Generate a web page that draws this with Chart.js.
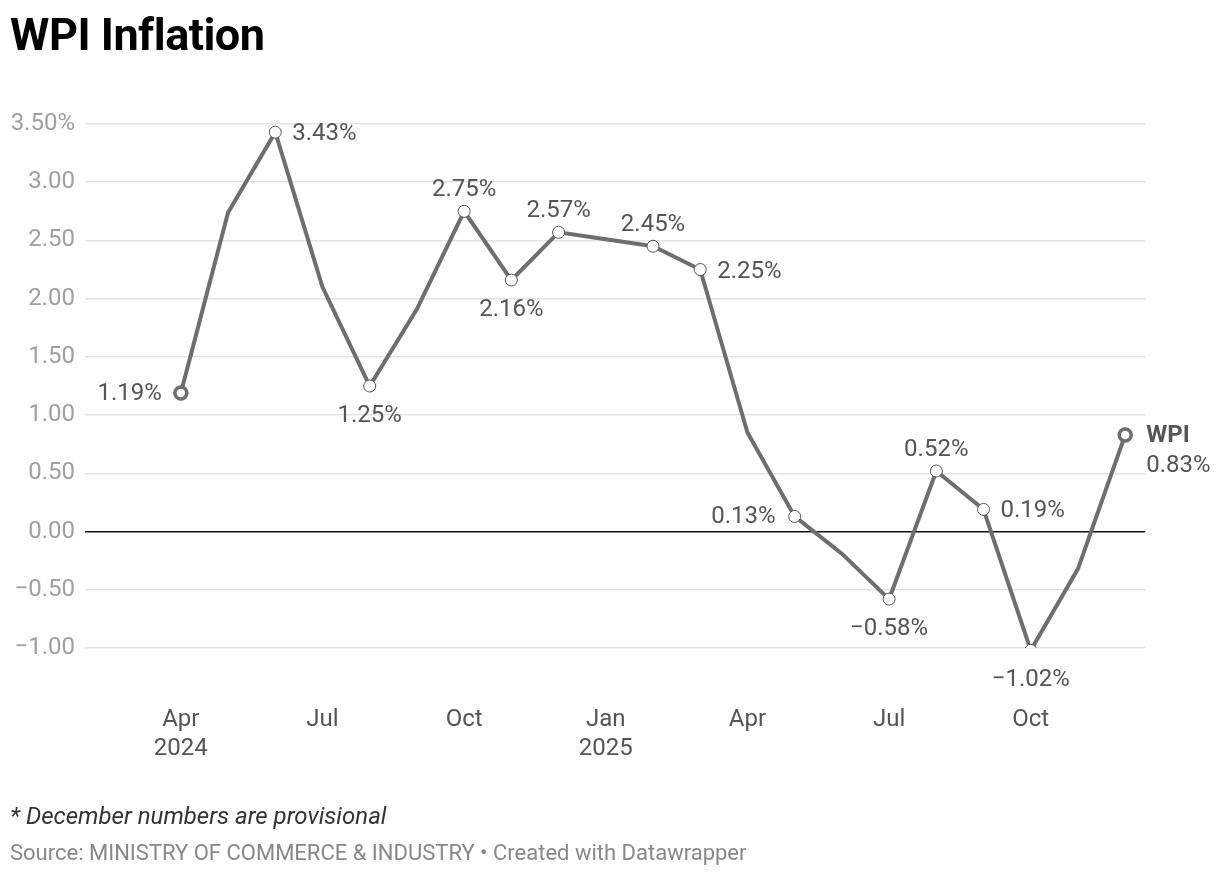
<!DOCTYPE html>
<html>
<head>
<meta charset="utf-8">
<script src="https://cdn.jsdelivr.net/npm/chart.js@4.4.1/dist/chart.umd.min.js"></script>
<style>
  html, body { margin: 0; padding: 0; background: #fff; }
  body { width: 1220px; height: 876px; position: relative; overflow: hidden; font-family: Roboto, "Noto Sans", sans-serif; }
  #title { position: absolute; left: 10px; top: 8px; font-size: 45px; line-height: normal; font-weight: 700; color: #000; letter-spacing: -0.5px; }
  #note { position: absolute; left: 10px; top: 802px; font-size: 24px; line-height: normal; font-style: italic; color: #333; }
  #source { position: absolute; left: 10px; top: 840px; font-size: 22px; line-height: normal; color: #888; }
  #wrap { position: absolute; left: 0; top: 0; width: 1220px; height: 876px; }
</style>
</head>
<body>
<div id="wrap"><canvas id="c"></canvas></div>
<div id="title">WPI Inflation</div>
<div id="note">* December numbers are provisional</div>
<div id="source">Source: MINISTRY OF COMMERCE &amp; INDUSTRY • Created with Datawrapper</div>
<script>
const months = ['Apr 2024','May 2024','Jun 2024','Jul 2024','Aug 2024','Sep 2024','Oct 2024','Nov 2024','Dec 2024',
  'Jan 2025','Feb 2025','Mar 2025','Apr 2025','May 2025','Jun 2025','Jul 2025','Aug 2025','Sep 2025','Oct 2025','Nov 2025','Dec 2025'];
const wpi = [1.19, 2.74, 3.43, 2.10, 1.25, 1.91, 2.75, 2.16, 2.57, 2.51, 2.45, 2.25, 0.85, 0.13, -0.19, -0.58, 0.52, 0.19, -1.02, -0.32, 0.83];
const xTickIndex = [0, 3, 6, 9, 12, 15, 18];
const xTickLabels = [['Apr','2024'], ['Jul'], ['Oct'], ['Jan','2025'], ['Apr'], ['Jul'], ['Oct']];
const yTicks = [3.5, 3.0, 2.5, 2.0, 1.5, 1.0, 0.5, 0.0, -0.5, -1.0];
const seriesName = 'WPI';

// label placement for annotated points (index -> side)
const labelSide = {0:'left', 2:'right', 4:'below', 6:'above', 7:'below', 8:'above', 10:'above', 11:'right',
  13:'left', 15:'below', 16:'above', 17:'right', 18:'below', 20:'last'};

const fmtPct = v => (v < 0 ? '\u2212' + Math.abs(v).toFixed(2) : v.toFixed(2)) + '%';
const fmtTick = v => { const s = (v < 0 ? '\u2212' + Math.abs(v).toFixed(2) : v.toFixed(2)); return v === 3.5 ? s + '%' : s; };

const pts = wpi.map((v, i) => ({x: i, y: v}));
const lastIdx = wpi.length - 1;
const radii = wpi.map((v, i) => (i === 0 || i === lastIdx) ? 6 : (labelSide[i] ? 6 : 0));
const bw = wpi.map((v, i) => (i === 0 || i === lastIdx) ? 3.5 : 1);
const bc = wpi.map((v, i) => (i === 0 || i === lastIdx) ? '#6e6e6e' : '#555');

const labelPlugin = {
  id: 'labels',
  afterDatasetsDraw(chart) {
    const ctx = chart.ctx;
    const meta = chart.getDatasetMeta(0);
    ctx.save();
    ctx.textBaseline = 'middle';
    Object.keys(labelSide).forEach(k => {
      const i = +k;
      const el = meta.data[i];
      const side = labelSide[i];
      const txt = fmtPct(wpi[i]);
      ctx.fillStyle = '#555';
      ctx.font = '24px Roboto, sans-serif';
      if (side === 'left') { ctx.textAlign = 'right'; ctx.fillText(txt, el.x - 19, el.y + 1); }
      else if (side === 'right') { ctx.textAlign = 'left'; ctx.fillText(txt, el.x + 17, el.y + 2); }
      else if (side === 'above') { ctx.textAlign = 'center'; ctx.fillText(txt, el.x, el.y - 21); }
      else if (side === 'below') { ctx.textAlign = 'center'; ctx.fillText(txt, el.x, el.y + 30); }
      else if (side === 'last') {
        ctx.textAlign = 'left';
        ctx.font = 'bold 24px Roboto, sans-serif';
        ctx.fillStyle = '#555';
        ctx.fillText(seriesName, el.x + 21, el.y + 1);
        ctx.font = '24px Roboto, sans-serif';
        ctx.fillText(txt, el.x + 21, el.y + 31);
      }
    });
    ctx.restore();
  }
};

new Chart(document.getElementById('c'), {
  type: 'line',
  data: {
    datasets: [{
      label: seriesName,
      data: pts,
      borderColor: '#6e6e6e',
      borderWidth: 4,
      tension: 0,
      pointRadius: radii,
      pointBackgroundColor: '#fff',
      pointBorderColor: bc,
      pointBorderWidth: bw,
      pointHoverRadius: radii
    }]
  },
  options: {
    responsive: true,
    maintainAspectRatio: false,
    animation: false,
    events: [],
    layout: { padding: { top: 124, right: 75, left: 0, bottom: 0 } },
    plugins: { legend: { display: false }, tooltip: { enabled: false } },
    scales: {
      x: {
        type: 'linear',
        min: -2.03,
        max: 20.42,
        afterBuildTicks: s => { s.ticks = xTickIndex.map(v => ({value: v})); },
        afterFit: s => { s.height = 228; },
        grid: { display: false, drawTicks: false },
        border: { display: false },
        ticks: {
          autoSkip: false,
          maxRotation: 0,
          padding: 58,
          color: '#555',
          font: { size: 24, family: 'Roboto', lineHeight: 1.2 },
          callback: (v) => { const k = xTickIndex.indexOf(v); return k >= 0 ? xTickLabels[k] : ''; }
        }
      },
      y: {
        min: -1,
        max: 3.5,
        afterBuildTicks: s => { s.ticks = yTicks.map(v => ({value: v})); },
        afterFit: s => { s.width = 85; },
        grid: {
          drawTicks: false,
          color: c => c.tick && c.tick.value === 0 ? '#111' : '#e3e3e3',
          lineWidth: c => c.tick && c.tick.value === 0 ? 1.6 : 1.5
        },
        border: { display: false },
        ticks: {
          padding: 10,
          color: '#a0a0a0',
          font: { size: 24, family: 'Roboto' },
          callback: v => fmtTick(v)
        }
      }
    }
  },
  plugins: [labelPlugin]
});
</script>
</body>
</html>
